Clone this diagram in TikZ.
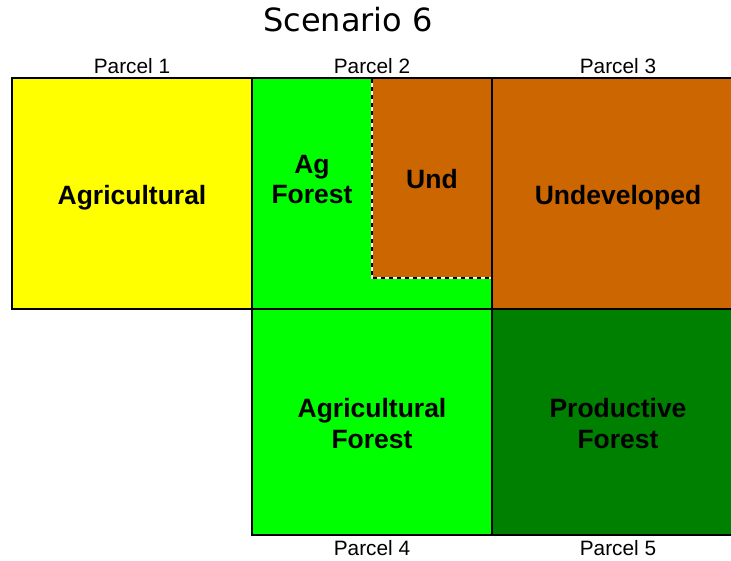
\documentclass[tikz,border=0pt]{standalone}
\usepackage{fontspec}
\setmainfont{Liberation Sans}
\newfontfamily\titlefont{DejaVu Sans}
\definecolor{agyellow}{HTML}{FFFF00}
\definecolor{aggreen}{HTML}{00FF00}
\definecolor{undorange}{HTML}{CC6600}
\definecolor{prodgreen}{HTML}{008000}
\begin{document}
\begin{tikzpicture}[x=1pt,y=-1pt,
  border/.style={draw=black,line width=2pt},
  landuse/.style={font=\fontsize{26.5}{30.5}\selectfont\bfseries,align=center,inner sep=0pt},
  parcellabel/.style={font=\fontsize{20.8}{24}\selectfont,inner sep=0pt}]
\useasboundingbox (0,0) rectangle (731,560);
% fills
\fill[agyellow] (12,78) rectangle (252,309);
\fill[aggreen] (252,78) rectangle (492,309);
\fill[undorange] (372,78) rectangle (492,278);
\fill[undorange] (492,78) rectangle (745,309);
\fill[aggreen] (252,309) rectangle (492,535);
\fill[prodgreen] (492,309) rectangle (745,535);
% dashed boundary of the undeveloped part of parcel 2
\draw[white,line width=2pt] (372,79) -- (372,278) -- (491,278);
\draw[black,line width=2pt,dash pattern=on 4pt off 4pt] (372,79) -- (372,278) -- (491,278);
% parcel borders
\draw[border] (12,78) rectangle (252,309);
\draw[border] (252,78) rectangle (492,309);
\draw[border] (492,78) rectangle (745,309);
\draw[border] (252,309) rectangle (492,535);
\draw[border] (492,309) rectangle (745,535);
% title
\node[font=\titlefont\fontsize{32}{36}\selectfont,inner sep=0pt] (title) at (348,20) {Scenario 6};
% parcel labels
\node[parcellabel] (p1) at (132,66) {Parcel 1};
\node[parcellabel] (p2) at (372,66) {Parcel 2};
\node[parcellabel] (p3) at (618,66) {Parcel 3};
\node[parcellabel] (p4) at (372,548) {Parcel 4};
\node[parcellabel] (p5) at (618,548) {Parcel 5};
% land use labels
\node[landuse] (agr) at (132,197.5) {Agricultural};
\node[landuse] (agf) at (312,179.5) {Ag\\Forest};
\node[landuse] (und) at (432,179) {Und};
\node[landuse] (undev) at (618,197.5) {Undeveloped};
\node[landuse] (agforest) at (372,423.5) {Agricultural\\Forest};
\node[landuse] (prod) at (618,423.5) {Productive\\Forest};
\end{tikzpicture}
\end{document}
